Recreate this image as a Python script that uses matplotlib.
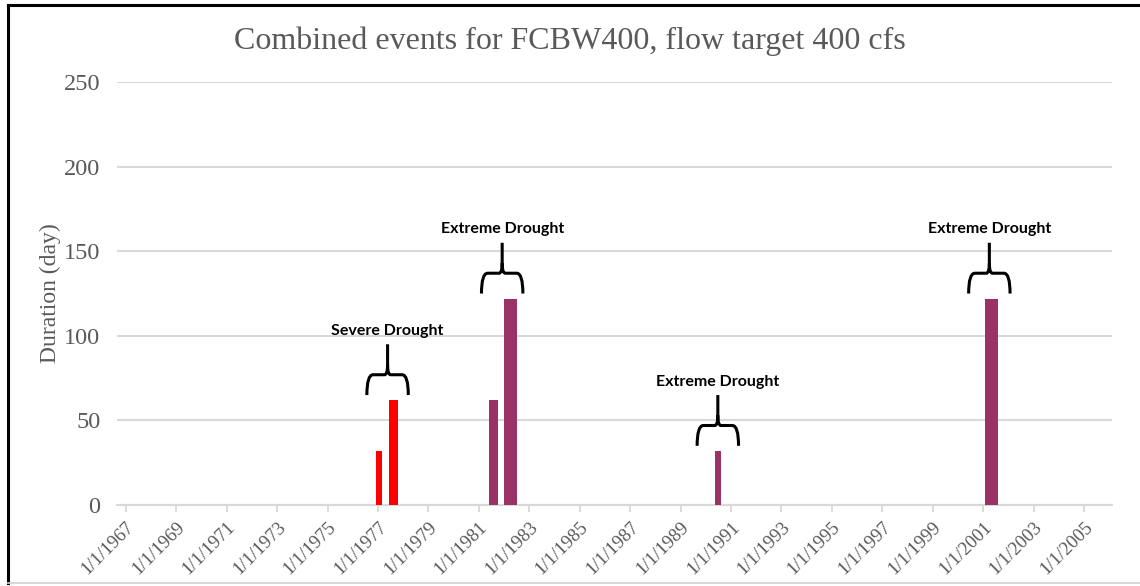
import datetime as dt

import matplotlib
matplotlib.use('Agg')
import matplotlib.pyplot as plt
import matplotlib.dates as mdates
from matplotlib.path import Path
from matplotlib.patches import PathPatch
from matplotlib.lines import Line2D

# events: date, duration (day), category
event_dates = ['1977-01-15', '1977-08-12', '1981-07-30', '1982-04-05', '1990-06-25', '2001-05-04']
durations = [32, 62, 62, 122, 32, 122]
event_kind = ['severe', 'severe', 'extreme', 'extreme', 'extreme', 'extreme']

# drought groups marked with a brace above the bars
group_labels = ['Severe Drought', 'Extreme Drought', 'Extreme Drought', 'Extreme Drought']
group_centers = ['1977-05-20', '1981-12-05', '1990-06-25', '2001-04-01']
group_tops = [62, 122, 32, 122]

tick_years = list(range(1967, 2006, 2))

# style
colors = {'severe': '#FF0000', 'extreme': '#993366'}
bar_widths = [85, 130, 130, 190, 80, 185]  # days
grid_col = '#D9D9D9'
txt_col = '#595959'
serif = 'Liberation Serif'


def brace(ax, xc, base, half=300):
    '''Draws an upward curly brace centred on xc (date) above base.'''
    x0 = mdates.date2num(xc)
    hw = half
    y_end, y_mid, y_top = base + 3, base + 15, base + 33
    verts = [(x0 - hw, y_end), (x0 - hw, y_mid), (x0 - 0.7 * hw, y_mid),
             (x0 - 0.15 * hw, y_mid), (x0, y_mid), (x0, y_mid + 6),
             (x0, y_top),
             (x0, y_mid + 6), (x0, y_mid), (x0 + 0.15 * hw, y_mid),
             (x0 + 0.7 * hw, y_mid), (x0 + hw, y_mid), (x0 + hw, y_end)]
    codes = [Path.MOVETO, Path.CURVE3, Path.CURVE3,
             Path.LINETO, Path.CURVE3, Path.CURVE3,
             Path.LINETO,
             Path.MOVETO, Path.CURVE3, Path.CURVE3,
             Path.LINETO, Path.CURVE3, Path.CURVE3]
    ax.add_patch(PathPatch(Path(verts, codes), fill=False, lw=2.2,
                           edgecolor='black', capstyle='butt', zorder=4))
    return y_top


fig = plt.figure(figsize=(11.4, 5.86), dpi=100)
ax = fig.add_axes([0.1026, 0.1382, 0.9754 - 0.1026, 0.860 - 0.1382])

dates = [dt.datetime.strptime(d, '%Y-%m-%d') for d in event_dates]
for d, v, k, w in zip(dates, durations, event_kind, bar_widths):
    ax.bar(d, v, width=w, color=colors[k], zorder=3)

for lab, c, top in zip(group_labels, group_centers, group_tops):
    c = dt.datetime.strptime(c, '%Y-%m-%d')
    ytop = brace(ax, c, top)
    ax.text(c, ytop + 8, lab, ha='center', va='center', fontsize=11.5,
            fontweight='bold', family='Lato', color='black', zorder=5)

ax.set_xlim(dt.datetime(1966, 8, 26), dt.datetime(2006, 2, 10))
ax.set_ylim(0, 250)
ax.set_yticks(range(0, 251, 50))
ticks = [dt.datetime(y, 1, 1) for y in tick_years]
ax.set_xticks(ticks)
ax.set_xticklabels(['1/1/%d' % y for y in tick_years], rotation=45,
                   ha='right', rotation_mode='anchor', fontsize=13.5,
                   family=serif, color=txt_col)
ax.tick_params(axis='x', length=5, color=grid_col, width=1.3, pad=5)
ax.tick_params(axis='y', length=0, pad=12, labelsize=17.5, labelcolor=txt_col)
for t in ax.get_yticklabels():
    t.set_family(serif)

ax.grid(axis='y', color=grid_col, lw=1.5, zorder=0)
for s in ['top', 'right', 'left']:
    ax.spines[s].set_visible(False)
ax.spines['bottom'].set_color(grid_col)
ax.spines['bottom'].set_linewidth(1.5)

ax.set_ylabel('Duration (day)', family=serif, fontsize=17, color=txt_col, labelpad=2)
fig.text(0.5, 0.93, 'Combined events for FCBW400, flow target 400 cfs',
         ha='center', va='center', family=serif, fontsize=23, color=txt_col)

# outer frame
fig.add_artist(Line2D([0.007, 0.007], [0.005, 0.991], color='black', lw=2.2,
                      transform=fig.transFigure))
fig.add_artist(Line2D([0.007, 1.0], [0.991, 0.991], color='black', lw=2.2,
                      transform=fig.transFigure))
fig.add_artist(Line2D([0.007, 1.0], [0.005, 0.005], color='#D0D0D0', lw=1.2,
                      transform=fig.transFigure))

fig.savefig('out.png', dpi=100)
